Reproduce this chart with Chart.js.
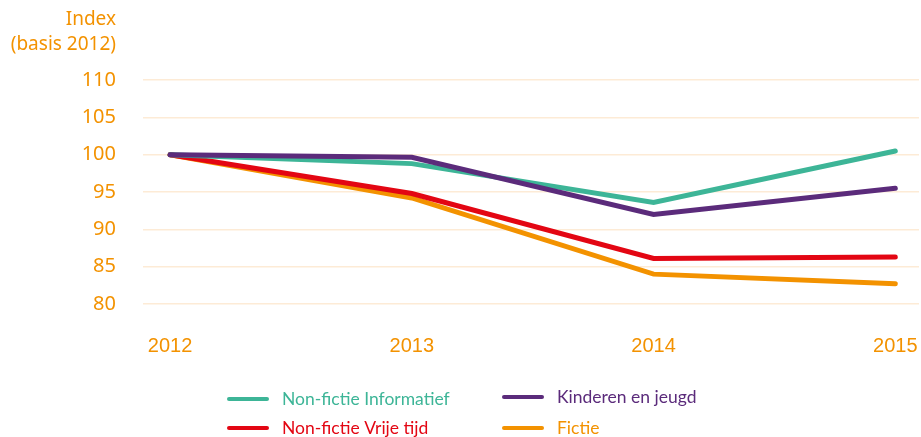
<!DOCTYPE html>
<html>
<head>
<meta charset="utf-8">
<script src="https://cdn.jsdelivr.net/npm/chart.js@4/dist/chart.umd.min.js"></script>
<style>
html,body{margin:0;padding:0;background:#fff;}
#wrap{width:921px;height:437px;position:relative;}
</style>
</head>
<body>
<div id="wrap"><canvas id="c" width="921" height="437"></canvas></div>
<script>
const years = [2012, 2013, 2014, 2015];
const yTicks = [80, 85, 90, 95, 100, 105, 110];
const seriesNames = ["Non-fictie Informatief", "Kinderen en jeugd", "Non-fictie Vrije tijd", "Fictie"];
const informatief = [100, 98.8, 93.6, 100.5];
const kinderen = [100, 99.65, 92.0, 95.5];
const vrijeTijd = [100, 94.8, 86.1, 86.3];
const fictie = [100, 94.2, 84.0, 82.7];
const axisTitle = ["Index", "(basis 2012)"];

const colors = ["#3db597", "#5b2b7b", "#e30613", "#f39200"];
const ORANGE = "#f39200";
const FONT = "'Noto Sans', Lato, sans-serif";
const LFONT = "Lato, 'Noto Sans', sans-serif";

const seriesValues = [informatief, kinderen, vrijeTijd, fictie];
const datasets = seriesNames.map((n, i) => ({
  label: n,
  data: years.map((y, j) => ({x: y, y: seriesValues[i][j]})),
  borderColor: colors[i],
  backgroundColor: colors[i],
  borderWidth: 5,
  borderCapStyle: 'round',
  borderJoinStyle: 'miter',
  pointRadius: 0,
  tension: 0,
  fill: false
}));
datasets[0].order = 2; datasets[1].order = 1; datasets[2].order = 3; datasets[3].order = 4;

const titlePlugin = {
  id: 'axisTitle',
  afterDraw(chart) {
    const ctx = chart.ctx;
    ctx.save();
    ctx.fillStyle = ORANGE;
    ctx.font = "19px " + FONT;
    ctx.textAlign = 'right';
    ctx.textBaseline = 'middle';
    ctx.fillText(axisTitle[0], 116, 20);
    ctx.fillText(axisTitle[1], 116, 45);
    ctx.restore();
  }
};

const legendPlugin = {
  id: 'gridLegend',
  afterDraw(chart) {
    const ctx = chart.ctx;
    const pos = [[227, 399], [502, 397], [227, 428], [502, 428]];
    ctx.save();
    ctx.font = "17.5px " + LFONT;
    ctx.textBaseline = 'middle';
    ctx.textAlign = 'left';
    chart.data.datasets.forEach((ds, i) => {
      const [x, y] = pos[i];
      ctx.strokeStyle = ds.borderColor;
      ctx.lineWidth = 4;
      ctx.lineCap = 'round';
      ctx.beginPath();
      ctx.moveTo(x + 2, y);
      ctx.lineTo(x + 40, y);
      ctx.stroke();
      ctx.fillStyle = ds.borderColor;
      ctx.fillText(ds.label, x + 55, y);
    });
    ctx.restore();
  }
};

new Chart(document.getElementById('c'), {
  type: 'line',
  data: { datasets },
  options: {
    responsive: false,
    animation: false,
    layout: { padding: { top: 80, right: 2, left: 0, bottom: 0 } },
    plugins: { legend: { display: false }, tooltip: { enabled: false }, title: { display: false } },
    scales: {
      x: {
        type: 'linear',
        min: 2011.888,
        max: 2015.098,
        grid: { display: false },
        border: { display: false },
        afterFit(scale) { scale.height = 133; scale.paddingLeft = 0; scale.paddingRight = 0; },
        afterBuildTicks(scale) { scale.ticks = years.map(v => ({value: v})); },
        ticks: {
          includeBounds: false,
          stepSize: 1,
          padding: 22,
          color: ORANGE,
          font: { family: "'Liberation Sans', Arial, sans-serif", size: 20 },
          callback: v => String(v),
          maxRotation: 0
        }
      },
      y: {
        min: 80,
        max: 110,
        afterFit(scale) { scale.width = 143; },
        afterBuildTicks(scale) { scale.ticks = yTicks.map(v => ({value: v})); },
        grid: { color: '#fdebd6', lineWidth: 1.5, drawTicks: false },
        border: { display: false },
        ticks: {
          stepSize: 5,
          padding: 27,
          color: ORANGE,
          font: { family: FONT, size: 20 }
        }
      }
    }
  },
  plugins: [titlePlugin, legendPlugin]
});
</script>
</body>
</html>
